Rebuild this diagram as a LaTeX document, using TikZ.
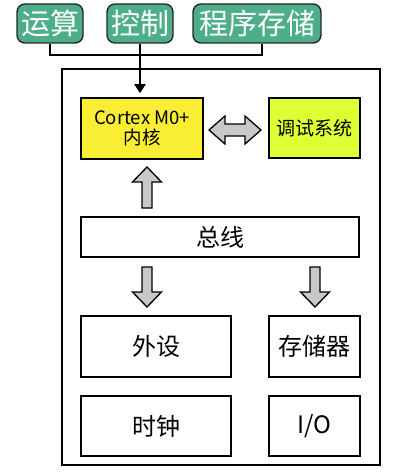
\documentclass[tikz,border=0pt]{standalone}
\usepackage{fontspec}
\setmainfont{Noto Sans CJK SC}
\usepackage{tikz}
\usetikzlibrary{arrows.meta}
\definecolor{pillgreen}{RGB}{77, 174, 137}
\definecolor{coreyellow}{RGB}{250, 238, 52}
\definecolor{debuglime}{RGB}{221, 255, 52}
\definecolor{arrowgray}{RGB}{200, 200, 200}

\begin{document}
\begin{tikzpicture}[x=1pt, y=-1pt,
	pill/.style={draw=black!85, line width=1.4pt, fill=pillgreen, rounded corners=8pt, text=white, inner sep=0pt, minimum height=39pt, font=\fontsize{29}{29}\selectfont},
	blk/.style={draw, line width=1.6pt, inner sep=0pt, align=center, font=\fontsize{24}{24}\selectfont},
	fat/.style={draw, line width=1.3pt, fill=arrowgray, line join=miter}]
	\useasboundingbox (0,0) rectangle (409,476);
	\node[pill, minimum width=66pt] (ys) at (50,23.5) {运算};
	\node[pill, minimum width=66pt] (kz) at (140,23.5) {控制};
	\node[pill, minimum width=128pt] (cx) at (257,23.5) {程序存储};
	\draw[line width=1.6pt] (62,69) rectangle (380,465);
	\node[blk, fill=coreyellow, minimum width=122pt, minimum height=61pt, font=\fontsize{18.5}{20}\selectfont] (core) at (142,128.5) {Cortex M0+\\内核};
	\node[blk, fill=debuglime, minimum width=91pt, minimum height=60pt, font=\fontsize{19}{19}\selectfont] (dbg) at (314.5,128) {调试系统};
	\node[blk, minimum width=278pt, minimum height=40pt] (bus) at (220,237) {总线};
	\node[blk, minimum width=150pt, minimum height=61pt] (wsh) at (156,346.5) {外设};
	\node[blk, minimum width=91pt, minimum height=61pt] (mem) at (314.5,346.5) {存储器};
	\node[blk, minimum width=150pt, minimum height=60pt] (clk) at (156,426) {时钟};
	\node[blk, minimum width=91pt, minimum height=60pt] (io) at (314.5,426) {I/O};
	% inputs to the core
	\coordinate (jr) at (262,55);
	\draw[line width=2.4pt] (ys.south) |- (jr) -- (jr |- cx.south);
	\draw[line width=2.4pt, -{Triangle[length=9pt,width=11pt]}, shorten >=4pt] (kz.south) -- (kz.south |- core.north);
	% block arrows
	\draw[fat] (209,130) -- (225,116) -- (225,124) -- (245,124) -- (245,116) -- (261,130) -- (245,144) -- (245,136) -- (225,136) -- (225,144) -- cycle;
	\draw[fat] (147,167) -- (161.5,182) -- (152,182) -- (152,208) -- (142,208) -- (142,182) -- (132.5,182) -- cycle;
	\draw[fat] (147,307) -- (161.5,292) -- (152,292) -- (152,267) -- (142,267) -- (142,292) -- (132.5,292) -- cycle;
	\draw[fat] (315,307) -- (329.5,292) -- (320,292) -- (320,267) -- (310,267) -- (310,292) -- (300.5,292) -- cycle;
\end{tikzpicture}
\end{document}
